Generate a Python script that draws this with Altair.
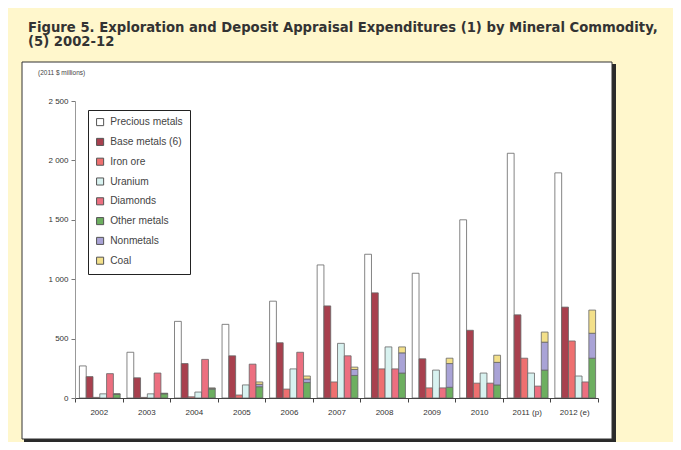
import altair as alt
import pandas as pd

years = ["2002", "2003", "2004", "2005", "2006", "2007", "2008", "2009", "2010", "2011 (p)", "2012 (e)"]
commodities = ["Precious metals", "Base metals (6)", "Iron ore", "Uranium", "Diamonds",
               "Other metals", "Nonmetals", "Coal"]
slots = ["a", "b", "c", "d", "e", "f", "f", "f"]
colors = ["#FFFFFF", "#A8404E", "#EE7070", "#D8F2F0", "#EC6F80", "#6DAF60", "#A9A3D6", "#F3E08A"]

precious = [270, 385, 645, 620, 815, 1120, 1210, 1050, 1500, 2060, 1895]
base = [180, 170, 290, 355, 465, 775, 885, 330, 570, 700, 765]
iron = [5, 5, 10, 25, 75, 135, 245, 85, 125, 335, 480]
uranium = [35, 35, 50, 110, 245, 460, 430, 235, 210, 210, 185]
diamonds = [205, 210, 325, 285, 385, 355, 245, 85, 125, 100, 135]
other_metals = [30, 35, 75, 95, 130, 190, 210, 90, 110, 235, 335]
nonmetals = [3, 3, 5, 20, 30, 50, 170, 200, 190, 235, 210]
coal = [2, 2, 5, 20, 25, 20, 50, 45, 60, 85, 195]
series = [precious, base, iron, uranium, diamonds, other_metals, nonmetals, coal]

rows = []
for i, yr in enumerate(years):
    for j, c in enumerate(commodities):
        rows.append({"year": yr, "commodity": c, "value": series[j][i], "slot": slots[j], "ord": j})
df = pd.DataFrame(rows)

W, H = 523, 297
one = pd.DataFrame({"k": [0]})

shadow = alt.Chart(one).mark_rect(fill="#2a2a2a").encode(
    x=alt.value(-51), x2=alt.value(W + 18), y=alt.value(-37), y2=alt.value(H + 45))
box = alt.Chart(one).mark_rect(fill="#FFFFFF", stroke="#333333", strokeWidth=1).encode(
    x=alt.value(-53), x2=alt.value(W + 14), y=alt.value(-39), y2=alt.value(H + 41))

bars = alt.Chart(df).mark_bar(stroke="#666666", strokeWidth=0.8).encode(
    x=alt.X("year:N", sort=years, scale=alt.Scale(paddingInner=0, paddingOuter=0),
            axis=alt.Axis(title=None, labelAngle=0, tickBand="extent", domainColor="#444444",
                          tickColor="#444444", tickSize=4, labelFontSize=8, labelColor="#333333",
                          labelFont="Liberation Sans", labelPadding=6, zindex=2)),
    xOffset=alt.XOffset("slot:N", scale=alt.Scale(paddingInner=0, paddingOuter=0.5, align=0.65)),
    y=alt.Y("value:Q", stack="zero", scale=alt.Scale(domain=[0, 2500]),
            axis=alt.Axis(title=None, values=[0, 500, 1000, 1500, 2000, 2500], grid=False,
                          domainColor="#999999", tickColor="#777777", tickSize=4,
                          labelFontSize=8, labelColor="#333333", labelFont="Liberation Sans",
                          labelPadding=3, zindex=2,
                          labelExpr="replace(format(datum.value, ',d'), ',', ' ')")),
    fill=alt.Fill("commodity:N", scale=alt.Scale(domain=commodities, range=colors),
                  legend=alt.Legend(title=None, orient="none", legendX=13, legendY=9,
                                    fillColor="#FFFFFF", strokeColor="#222222", padding=7,
                                    symbolType="square", symbolSize=50,
                                    symbolStrokeColor="#555555", symbolStrokeWidth=1,
                                    labelFontSize=10.2, labelFont="Liberation Sans",
                                    labelColor="#444444", rowPadding=7.8, labelOffset=5,
                                    zindex=3)),
    order=alt.Order("ord:Q"),
)

title1 = alt.Chart(one).mark_text(
    text="Figure 5. Exploration and Deposit Appraisal Expenditures (1) by Mineral Commodity,",
    align="left", baseline="alphabetic", font="DejaVu Sans", fontWeight="bold",
    fontSize=13.2, color="#333333").encode(x=alt.value(-47), y=alt.value(-69))
title2 = alt.Chart(one).mark_text(
    text="(5) 2002-12", align="left", baseline="alphabetic", font="DejaVu Sans",
    fontWeight="bold", fontSize=13.2, color="#333333").encode(x=alt.value(-47), y=alt.value(-55))
ytitle = alt.Chart(one).mark_text(
    text="(2011 $ millions)", align="left", baseline="middle", font="Liberation Sans",
    fontSize=6.5, color="#444444").encode(x=alt.value(-37), y=alt.value(-28))

chart = alt.layer(shadow, box, bars, title1, title2, ytitle).properties(
    width=W, height=H,
    autosize=alt.AutoSizeParams(type="none"),
    padding={"left": 67, "top": 93, "right": 75, "bottom": 44},
    background="#FFF7CC",
).configure_view(stroke=None)

chart.save("out.html", embed_options={"renderer": "svg", "actions": False})
